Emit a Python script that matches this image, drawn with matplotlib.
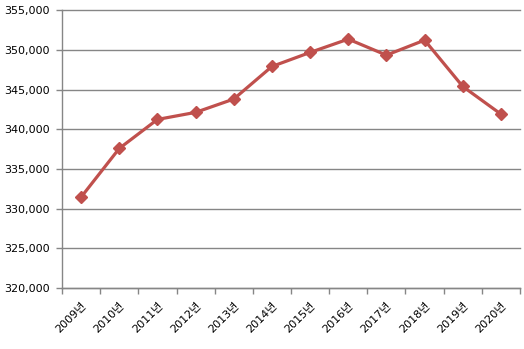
import matplotlib
matplotlib.use("Agg")
import matplotlib.pyplot as plt
from matplotlib.ticker import FuncFormatter, FixedLocator

years = ["2009년", "2010년", "2011년", "2012년", "2013년", "2014년",
         "2015년", "2016년", "2017년", "2018년", "2019년", "2020년"]
values = [331460, 337600, 341260, 342150, 343830, 347940,
          349710, 351390, 349370, 351260, 345420, 341930]

plt.rcParams['font.family'] = ['DejaVu Sans', 'Noto Sans CJK KR']

fig = plt.figure(figsize=(5.24, 3.49), dpi=100)
ax = fig.add_axes([62/524, 1 - 288/349, (520-62)/524, (288-10.5)/349])

x = list(range(len(years)))
ax.plot(x, values, color='#C0504D', linewidth=2.3, marker='D', markersize=6,
        markeredgecolor='#C0504D', markerfacecolor='#C0504D', zorder=3)

ax.set_xlim(-0.5, len(years) - 0.5)
ax.set_ylim(320000, 355000)
ax.set_yticks(range(320000, 355001, 5000))
ax.yaxis.set_major_formatter(FuncFormatter(lambda v, p: f"{int(v):,}"))
ax.grid(axis='y', color='#868686', linewidth=1)
for gl in ax.get_ygridlines():
    gl.set_clip_on(False)
ax.set_axisbelow(True)

ax.set_xticks(x)
ax.set_xticklabels(years, rotation=45, ha='right', rotation_mode='anchor')
ax.xaxis.set_minor_locator(FixedLocator([i - 0.5 for i in range(len(years) + 1)]))
ax.tick_params(axis='x', which='major', length=0, pad=9, labelsize=8, colors='black')
ax.tick_params(axis='x', which='minor', length=4, color='#868686', width=1)
ax.tick_params(axis='y', length=4, color='#868686', width=1, labelsize=8, pad=5)

for s in ['top', 'right']:
    ax.spines[s].set_visible(False)
for s in ['left', 'bottom']:
    ax.spines[s].set_color('#868686')
    ax.spines[s].set_linewidth(1)

fig.savefig("out.png", dpi=100)
